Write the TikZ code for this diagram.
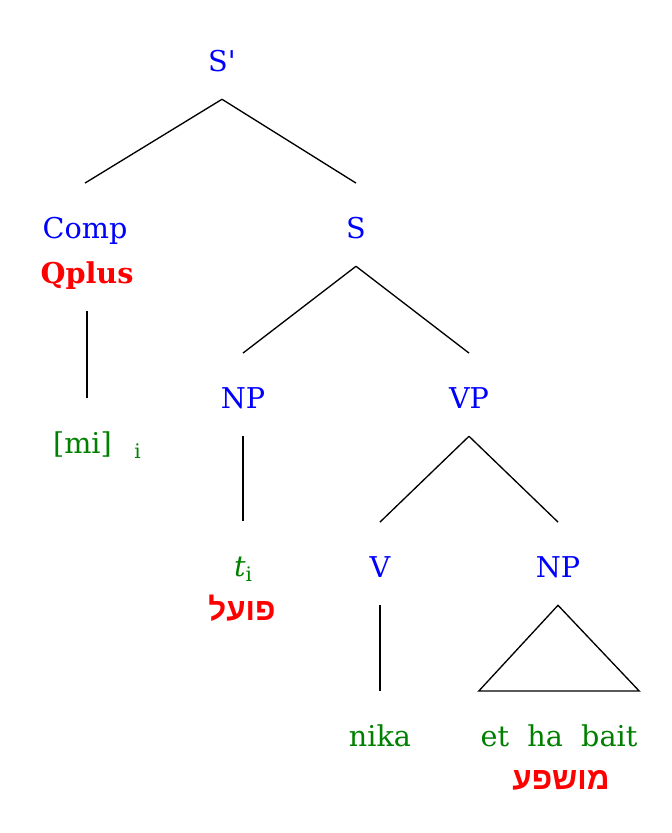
\documentclass[tikz,border=0pt]{standalone}
\usepackage{fontspec}
\setmainfont{DejaVu Serif}
\newfontfamily\hebfont[Script=Hebrew]{Liberation Sans}
\TeXXeTstate=1
\usepackage{xcolor}
\usetikzlibrary{positioning}
\definecolor{catblue}{RGB}{0,0,255}
\definecolor{wordgreen}{RGB}{0,128,0}
\definecolor{rolered}{RGB}{255,0,0}
\newcommand{\idx}[1]{\raisebox{-0.35ex}{\fontsize{15}{16}\selectfont #1}}

\begin{document}
\begin{tikzpicture}[x=0.75pt, y=-0.75pt]
		\tikzstyle{lbl} = [anchor=base, font=\fontsize{21.5}{26}\selectfont, text height=35pt, text depth=15pt, inner ysep=6pt, inner xsep=0pt]
		\tikzstyle{cat} = [lbl, text=catblue]
		\tikzstyle{word} = [lbl, text=wordgreen]
		\tikzstyle{role} = [lbl, text=rolered, font=\bfseries\fontsize{21.5}{26}\selectfont]
		\tikzstyle{hrole} = [role, font=\hebfont\bfseries\fontsize{23.5}{28}\selectfont]
		\tikzstyle{branch} = [line width=1pt]

		\useasboundingbox (0,0) rectangle (672,833);

		\node[cat] 	at (222, 71) 	(sp) 	{S\textquotesingle};
		\node[cat] 	at (85, 238) 	(comp) 	{Comp};
		\node[role] 	at (87, 283) 	(qplus) {Qplus};
		\node[cat] 	at (356, 238) 	(s) 	{S};
		\node[word] 	at (97, 453) 	(mi) 	{[mi]\hspace{17pt}\idx{i}};
		\node[cat] 	at (243, 408) 	(np1) 	{NP};
		\node[cat] 	at (469, 408) 	(vp) 	{VP};
		\node[word] 	at (243, 576) 	(t) 	{\textit{t}\idx{i}};
		\node[hrole] 	at (242, 620) 	(agent) {\beginR פועל\endR};
		\node[cat] 	at (380, 577) 	(v) 	{V};
		\node[cat] 	at (558, 577) 	(np2) 	{NP};
		\node[word] 	at (380, 746) 	(nika) 	{nika};
		\node[word, minimum width=120pt] at (559, 746) (bait) {et\ \ ha\ \ bait};
		\node[hrole] 	at (561, 789) 	(patient) {\beginR מושפע\endR};

		\draw[branch] (sp.south) -- (comp.north);
		\draw[branch] (sp.south) -- (s.north);
		\draw[branch] (qplus.south) -- (qplus.south |- mi.north);
		\draw[branch] (s.south) -- (np1.north);
		\draw[branch] (s.south) -- (vp.north);
		\draw[branch] (np1.south) -- (t.north);
		\draw[branch] (vp.south) -- (v.north);
		\draw[branch] (vp.south) -- (np2.north);
		\draw[branch] (v.south) -- (nika.north);
		\draw[branch] (np2.south) -- (bait.north west) -- (bait.north east) -- cycle;
	\end{tikzpicture}
\end{document}
